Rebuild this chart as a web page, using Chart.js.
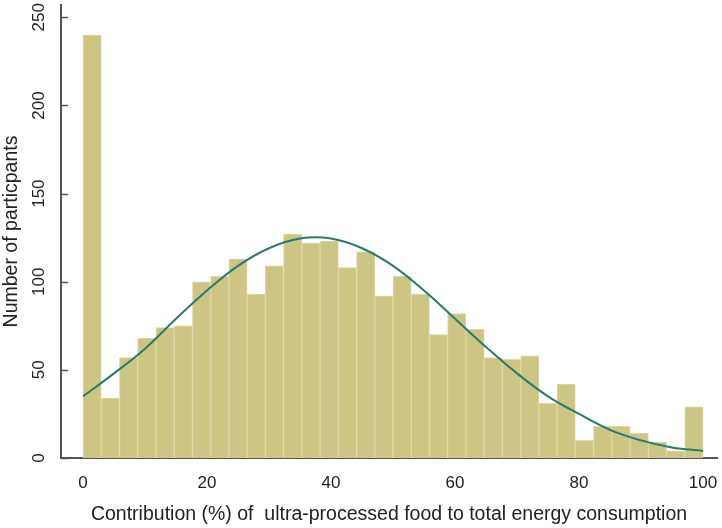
<!DOCTYPE html>
<html>
<head>
<meta charset="utf-8">
<script src="https://cdn.jsdelivr.net/npm/chart.js@4.4.1/dist/chart.umd.min.js"></script>
<style>
html,body{margin:0;padding:0;background:#ffffff;}
#wrap{width:722px;height:528px;position:relative;}
</style>
</head>
<body>
<div id="wrap"><canvas id="c" width="722" height="528"></canvas></div>
<script>
// Histogram bins (midpoints of 34 bins spanning 0-100 %)
const binMidpoints = [1.47, 4.41, 7.35, 10.29, 13.24, 16.18, 19.12, 22.06, 25.00, 27.94,
  30.88, 33.82, 36.76, 39.71, 42.65, 45.59, 48.53, 51.47, 54.41, 57.35,
  60.29, 63.24, 66.18, 69.12, 72.06, 75.00, 77.94, 80.88, 83.82, 86.76,
  89.71, 92.65, 95.59, 98.53];
const participantCounts = [240, 34, 57, 68, 74, 75, 100, 103, 113, 93,
  109, 127, 122, 123, 108, 117, 92, 103, 93, 70,
  82, 73, 57, 56, 58, 31, 42, 10, 18, 18,
  14, 9, 4, 29];
// Normal curve overlay
const curveX = [0, 5, 10, 15, 20, 25, 30, 35, 40, 45, 50, 55, 60, 65, 70, 75, 80, 85, 90, 95, 100];
const curveY = [35, 48, 62, 79, 95, 109, 119, 124.5, 124.5, 119, 109, 95, 79, 63, 48, 35, 25, 16, 10, 6, 4];
// Axis ticks
const xTickValues = [0, 20, 40, 60, 80, 100];
const yTickValues = [0, 50, 100, 150, 200, 250];

const xTitle = 'Contribution (%) of  ultra-processed food to total energy consumption';
const yTitle = 'Number of particpants';

const barData = binMidpoints.map((x, i) => ({x: x, y: participantCounts[i]}));
const curveData = curveX.map((x, i) => ({x: x, y: curveY[i]}));

const axisColor = '#555555';
const textColor = '#222222';
const fontFamily = '"Liberation Sans", Arial, Helvetica, sans-serif';

const innerTicks = {
  id: 'innerTicks',
  afterDraw(chart) {
    const y = chart.scales.y;
    const ctx = chart.ctx;
    ctx.save();
    ctx.strokeStyle = axisColor;
    ctx.lineWidth = 1.5;
    y.ticks.forEach(t => {
      const py = Math.round(y.getPixelForValue(t.value)) + 0.5;
      ctx.beginPath();
      ctx.moveTo(y.right, py);
      ctx.lineTo(y.right + 7, py);
      ctx.stroke();
    });
    ctx.restore();
  }
};

new Chart(document.getElementById('c'), {
  data: {
    datasets: [
      {
        type: 'line',
        data: curveData,
        borderColor: '#2b786c',
        borderWidth: 2,
        pointRadius: 0,
        fill: false,
        tension: 0.4,
        order: 0
      },
      {
        type: 'bar',
        data: barData,
        backgroundColor: '#ccc584',
        borderColor: '#dcd8a6',
        borderWidth: 1,
        barPercentage: 1.0,
        categoryPercentage: 1.0,
        order: 1
      }
    ]
  },
  options: {
    responsive: false,
    devicePixelRatio: 1,
    animation: false,
    layout: {padding: {top: 5, right: 5, left: 0, bottom: 0}},
    plugins: {legend: {display: false}, tooltip: {enabled: false}},
    scales: {
      x: {
        type: 'linear',
        offset: false,
        min: -3.55,
        max: 102.26,
        afterBuildTicks: s => { s.ticks = xTickValues.map(v => ({value: v})); },
        afterFit: s => { s.height = 70; s.paddingLeft = 0; s.paddingRight = 0; },
        grid: {display: false, drawTicks: false, offset: false},
        border: {display: true, color: axisColor, width: 2},
        ticks: {color: textColor, font: {family: fontFamily, size: 17}, padding: 15, maxRotation: 0, autoSkip: false},
        title: {display: true, text: xTitle, color: textColor, font: {family: fontFamily, size: 19.5}, padding: {top: 0, bottom: 2}}
      },
      y: {
        type: 'linear',
        min: 0,
        max: 257,
        afterBuildTicks: s => { s.ticks = yTickValues.map(v => ({value: v})); },
        afterFit: s => { s.width = 61; s.paddingTop = 0; s.paddingBottom = 0; },
        grid: {display: false, drawTicks: false},
        border: {display: true, color: axisColor, width: 2},
        ticks: {color: textColor, font: {family: fontFamily, size: 17}, padding: 8, minRotation: 90, maxRotation: 90, crossAlign: 'center', autoSkip: false},
        title: {display: true, text: yTitle, color: textColor, font: {family: fontFamily, size: 19.5}, padding: {top: 0, bottom: 0}}
      }
    }
  },
  plugins: [innerTicks]
});
</script>
</body>
</html>
